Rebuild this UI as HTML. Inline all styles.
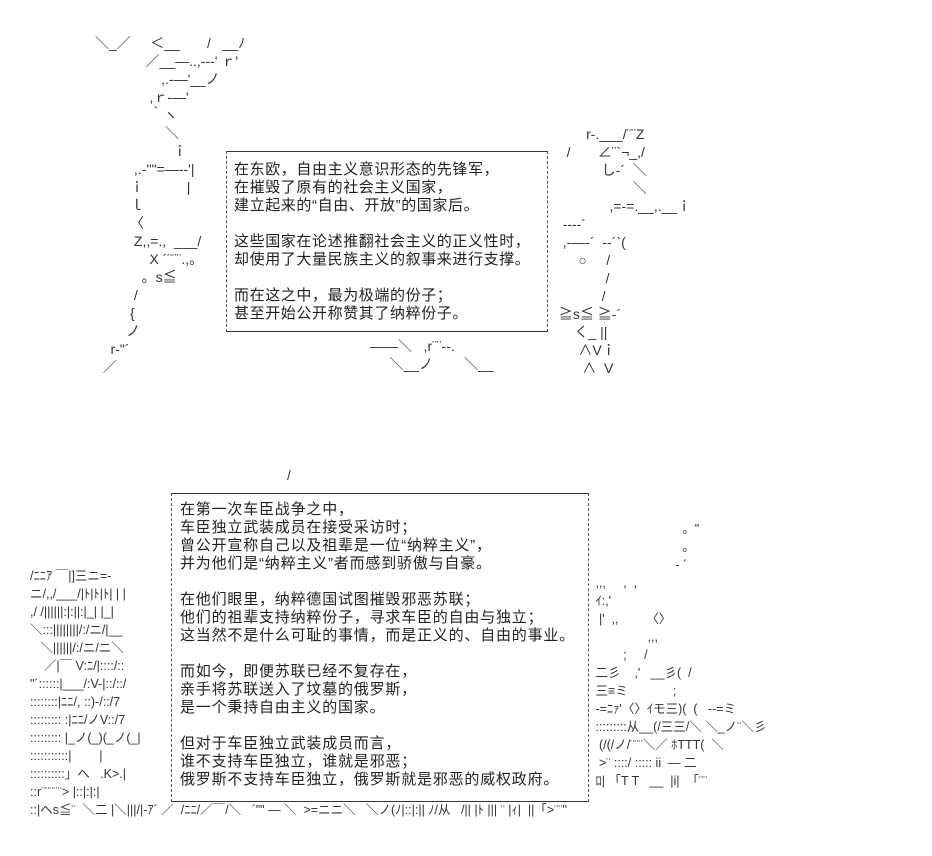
<!DOCTYPE html>
<html><head><meta charset="utf-8"><style>
body{margin:0;width:932px;height:856px;background:#fff;position:relative;overflow:hidden;font-family:"Liberation Sans","Noto Sans CJK SC",sans-serif;color:#222}
.box{position:absolute;border:1px solid #333;border-left:1px dashed #555;border-right:1px dashed #555}
.t{position:absolute;font-size:15px;line-height:18px;white-space:pre;letter-spacing:0.6px}
.a{position:absolute;font-size:14px;line-height:18px;white-space:pre;color:#333}
</style></head><body>
<div class="box" style="left:226px;top:151px;width:320px;height:179px"></div>
<div class="t" style="left:234px;top:161px">在东欧，自由主义意识形态的先锋军，
在摧毁了原有的社会主义国家，
建立起来的“自由、开放”的国家后。

这些国家在论述推翻社会主义的正义性时，
却使用了大量民族主义的叙事来进行支撑。

而在这之中，最为极端的份子；
甚至开始公开称赞其了纳粹份子。</div>
<div class="box" style="left:171px;top:493px;width:416px;height:307px"></div>
<div class="t" style="left:180px;top:501px;letter-spacing:0.8px">在第一次车臣战争之中，
车臣独立武装成员在接受采访时；
曾公开宣称自己以及祖辈是一位“纳粹主义”，
并为他们是“纳粹主义”者而感到骄傲与自豪。

在他们眼里，纳粹德国试图摧毁邪恶苏联；
他们的祖辈支持纳粹份子，寻求车臣的自由与独立；
这当然不是什么可耻的事情，而是正义的、自由的事业。

而如今，即便苏联已经不复存在，
亲手将苏联送入了坟墓的俄罗斯，
是一个秉持自由主义的国家。

但对于车臣独立武装成员而言，
谁不支持车臣独立，谁就是邪恶；
俄罗斯不支持车臣独立，俄罗斯就是邪恶的威权政府。</div>
<div class="a" style="left:95px;top:34px">＼_／     ＜__       /   __ﾉ
             ／__―..,---' ｒ'
                 ,.-―'__ノ
              ,ｒ-―'
              ｀ヽ
                  ＼
                    ｉ
          ,.-''"=―--'|
         ｉ           |
         ｌ
         〈
          Z,,=.,  ___/
              X ´¨¨¨.,。
            。s≦
          /
         {
        ノ
    r-"´
  ／</div>
<div class="a" style="left:555px;top:125px">        r-.___/¨¨Z
   /       ∠¨`¬_,/
            し-´  ＼
                    ＼
              ,=-=.__,.__ｉ
  ----´
  ,-―-´  --´`(
      ○     /
             /
            /
 ≧s≦ ≧-´
     く_ ||
      ∧Vｉ
       ∧  V</div>
<div class="a" style="left:370px;top:337px">――＼   ,r¨¨--.
     ＼__ノ        ＼__</div>
<div class="a" style="left:287px;top:466px">/</div>
<div class="a" style="left:30px;top:567px;font-size:12.5px">/ﾆﾆｱ ￣|]三ニ=-
ニ/,,/___/|ﾄ|ﾄ|ﾄ| | |
,/ /||||||:|:||:|_| |_|
＼:::||||||||/:/ニ/|__
   ＼||||||/:/ニ/ニ＼
    ／|￣ V:ﾆ/|::::/::
"´::::::|___/:V-|::/::/
::::::::|ﾆﾆ/, ::)-/::/7
::::::::: :|ﾆﾆ/ノV::/7
::::::::: |_ノ(_)(_ノ(_|
:::::::::::|        |
::::::::::」へ   .K>.|
::r¨¨¨¨¨> |::|:|:|
::|へs≦¨  ＼二 |＼|||/|-ｱ´ ／  /ﾆﾆ/／￣/＼   ´"" ― ＼  >=ニニ＼   ＼ノ(ﾉ|::|:|| ﾉ/从   /|| |ﾄ ||| ¨ |ｨ|  ||「>¨¨"</div>
<div class="a" style="left:592px;top:520px;font-size:12.5px">                          。"
                          。
                        - ´
 ,,,     ,  ,
 ｲ:,'
  |'  ,,        〈〉
                ,,,
         ;     /
 二彡    ,'   __彡(  /
 三≡ミ             ;
 -=ﾆｧ'〈〉ｲモ三)(  (   --=ミ
 :::::::::从__(/三三/＼ ＼_ノ¨＼彡
  (/(/ノ/¨¨¨＼／ ﾎTTT(  ＼
  >¨ ::::/ ::::: ii  ― 二
 ﾛ| 「T T   __  |i|  「¨¨</div>
</body></html>
